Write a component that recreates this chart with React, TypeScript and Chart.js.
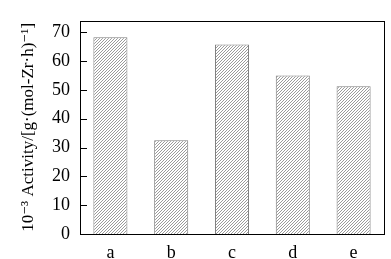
import React, { useEffect, useRef } from "react";
import { Chart, registerables } from "chart.js";

Chart.register(...registerables);

const categories = ["a", "b", "c", "d", "e"];
const activity = [68.3, 32.5, 65.8, 55.0, 51.3];
const yTicks = [0, 10, 20, 30, 40, 50, 60, 70];

function makePattern(): CanvasPattern | string {
  const c = document.createElement("canvas");
  c.width = 3;
  c.height = 3;
  const ctx = c.getContext("2d");
  if (!ctx) return "#ddd";
  ctx.fillStyle = "#ffffff";
  ctx.fillRect(0, 0, 3, 3);
  ctx.fillStyle = "#9a9a9a";
  ctx.fillRect(0, 2, 1, 1);
  ctx.fillRect(1, 1, 1, 1);
  ctx.fillRect(2, 0, 1, 1);
  const p = ctx.createPattern(c, "repeat");
  return p || "#ddd";
}

const framePlugin = {
  id: "frame",
  afterDraw(chart: any) {
    const { ctx, chartArea } = chart;
    const y = chart.scales.y;
    ctx.save();
    ctx.strokeStyle = "#000";
    ctx.lineWidth = 1;
    ctx.strokeRect(
      Math.round(chartArea.left) + 0.5,
      Math.round(chartArea.top) + 0.5,
      Math.round(chartArea.right - chartArea.left),
      Math.round(chartArea.bottom - chartArea.top)
    );
    ctx.beginPath();
    for (const v of yTicks) {
      const py = Math.round(y.getPixelForValue(v)) + 0.5;
      ctx.moveTo(chartArea.left, py);
      ctx.lineTo(chartArea.left + 7, py);
    }
    ctx.stroke();
    ctx.restore();
  },
};

export default function App() {
  const ref = useRef<HTMLCanvasElement>(null);
  useEffect(() => {
    if (!ref.current) return;
    const pattern = makePattern();
    const family = "'Liberation Serif', 'DejaVu Serif', serif";
    const font = { family, size: 18 };
    const chart = new Chart(ref.current, {
      type: "bar",
      data: {
        labels: categories,
        datasets: [
          {
            data: activity,
            backgroundColor: pattern as any,
            borderColor: "#7f7f7f",
            borderWidth: 1,
            barPercentage: 0.56,
            categoryPercentage: 1,
          },
        ],
      },
      options: {
        animation: false,
        responsive: false,
        maintainAspectRatio: false,
        layout: { padding: { top: 9, right: 7, left: 0, bottom: 0 } },
        plugins: { legend: { display: false }, tooltip: { enabled: false } },
        scales: {
          x: {
            grid: { display: false, drawTicks: false },
            border: { display: false },
            ticks: { color: "#000", font, padding: 8 },
            afterFit(scale: any) {
              scale.height = 25;
            },
          },
          y: {
            min: 0,
            max: 74,
            afterBuildTicks(scale: any) {
              scale.ticks = yTicks.map((v) => ({ value: v }));
            },
            grid: { display: false, drawTicks: false },
            border: { display: false },
            ticks: { color: "#000", font, padding: 10 },
            title: {
              display: true,
              text: "10\u207B\u00B3 Activity/[g\u00B7(mol-Zr\u00B7h)\u207B\u00B9]",
              color: "#000",
              font: { family, size: 17 },
              padding: { top: 18, bottom: 0 },
            },
            afterFit(scale: any) {
              scale.width = 80;
            },
          },
        },
      },
      plugins: [framePlugin],
    });
    return () => chart.destroy();
  }, []);
  return (
    <div style={{ position: "fixed", left: 0, top: 0, width: 391, height: 259, background: "#fff" }}>
      <canvas ref={ref} width={391} height={259} style={{ width: 391, height: 259 }} />
    </div>
  );
}
